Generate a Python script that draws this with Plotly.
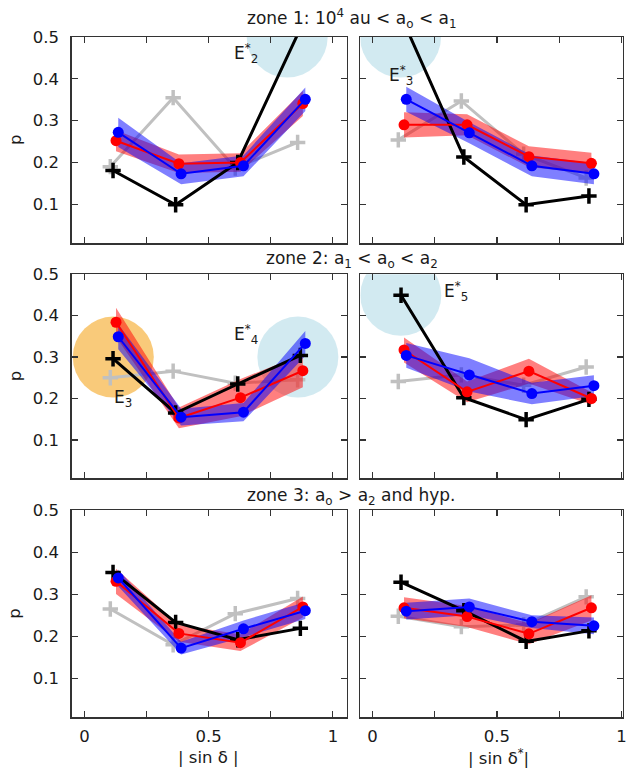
import plotly.graph_objects as go

# ---------------- data ----------------
# x positions (|sin delta| bin centres, slightly shifted per series)
x_gray = [0.104, 0.357, 0.607, 0.858]
x_black = [0.115, 0.367, 0.617, 0.869]
x_red = [0.127, 0.380, 0.628, 0.879]
x_blue = [0.136, 0.389, 0.640, 0.889]

# panel 1: zone 1, |sin d|
p1_gray = [0.190, 0.355, 0.187, 0.248]
p1_black = [0.181, 0.099, 0.200, 0.520]
p1_red = [0.252, 0.197, 0.200, 0.341]
p1_red_err = [0.025, 0.022, 0.022, 0.030]
p1_blue = [0.272, 0.173, 0.192, 0.351]
p1_blue_err = [0.035, 0.025, 0.025, 0.028]
# panel 2: zone 1, |sin d*|
p2_gray = [0.254, 0.347, 0.220, 0.163]
p2_black = [0.550, 0.213, 0.099, 0.120]
p2_red = [0.290, 0.290, 0.214, 0.198]
p2_red_err = [0.030, 0.025, 0.025, 0.025]
p2_blue = [0.351, 0.271, 0.192, 0.173]
p2_blue_err = [0.030, 0.025, 0.025, 0.025]
# panel 3: zone 2, |sin d|
p3_gray = [0.250, 0.266, 0.237, 0.245]
p3_black = [0.296, 0.165, 0.235, 0.304]
p3_red = [0.384, 0.153, 0.202, 0.267]
p3_red_err = [0.035, 0.025, 0.045, 0.040]
p3_blue = [0.349, 0.155, 0.167, 0.333]
p3_blue_err = [0.030, 0.020, 0.022, 0.030]
# panel 4: zone 2, |sin d*|
p4_gray = [0.241, 0.257, 0.232, 0.276]
p4_black = [0.449, 0.202, 0.149, 0.198]
p4_red = [0.317, 0.216, 0.266, 0.200]
p4_red_err = [0.030, 0.025, 0.030, 0.015]
p4_blue = [0.304, 0.257, 0.212, 0.231]
p4_blue_err = [0.030, 0.040, 0.026, 0.025]
# panel 5: zone 3, |sin d|
p5_gray = [0.265, 0.180, 0.254, 0.290]
p5_black = [0.352, 0.233, 0.192, 0.219]
p5_red = [0.331, 0.207, 0.185, 0.270]
p5_red_err = [0.030, 0.020, 0.020, 0.025]
p5_blue = [0.339, 0.172, 0.218, 0.261]
p5_blue_err = [0.020, 0.015, 0.020, 0.020]
# panel 6: zone 3, |sin d*|
p6_gray = [0.248, 0.223, 0.227, 0.294]
p6_black = [0.329, 0.261, 0.188, 0.213]
p6_red = [0.268, 0.247, 0.206, 0.268]
p6_red_err = [0.025, 0.025, 0.025, 0.030]
p6_blue = [0.260, 0.270, 0.235, 0.225]
p6_blue_err = [0.020, 0.020, 0.015, 0.020]

# highlighted cases (panel, x, y, colour) and their labels
hl_panel = [1, 2, 3, 3, 4]
hl_x = [0.816, 0.113, 0.116, 0.859, 0.114]
hl_y = [0.500, 0.500, 0.300, 0.300, 0.449]
hl_color = ["rgba(173,216,230,0.55)", "rgba(173,216,230,0.55)",
            "rgba(246,170,40,0.62)", "rgba(173,216,230,0.55)",
            "rgba(173,216,230,0.55)"]
lab_panel = [1, 2, 3, 3, 4]
lab_x = [0.652, 0.113, 0.156, 0.652, 0.336]
lab_y = [0.460, 0.408, 0.200, 0.355, 0.457]
lab_text = ["E<sup>*</sup><sub>2</sub>", "E<sup>*</sup><sub>3</sub>",
            "E<sub>3</sub>", "E<sup>*</sup><sub>4</sub>",
            "E<sup>*</sup><sub>5</sub>"]

zone_titles = ["zone 1: 10<sup>4</sup> au &lt; a<sub>o</sub> &lt; a<sub>1</sub>",
               "zone 2: a<sub>1</sub> &lt; a<sub>o</sub> &lt; a<sub>2</sub>",
               "zone 3: a<sub>o</sub> &gt; a<sub>2</sub> and hyp."]
x_titles = ["| sin δ |", "| sin δ<sup>*</sup>|"]
x_tickvals = [0, 0.25, 0.5, 0.75, 1]
x_ticktext = ["0", "", "0.5", "", "1"]
y_tickvals = [0.1, 0.2, 0.3, 0.4, 0.5]
y_ticktext = ["0.1", "0.2", "0.3", "0.4", "0.5"]

panels = [
    (p1_gray, p1_black, p1_red, p1_red_err, p1_blue, p1_blue_err),
    (p2_gray, p2_black, p2_red, p2_red_err, p2_blue, p2_blue_err),
    (p3_gray, p3_black, p3_red, p3_red_err, p3_blue, p3_blue_err),
    (p4_gray, p4_black, p4_red, p4_red_err, p4_blue, p4_blue_err),
    (p5_gray, p5_black, p5_red, p5_red_err, p5_blue, p5_blue_err),
    (p6_gray, p6_black, p6_red, p6_red_err, p6_blue, p6_blue_err),
]

# ---------------- layout geometry ----------------
W, H = 637, 773
col_dom = [[72 / W, 349 / W], [362.7 / W, 627 / W]]
row_px = [(28.3, 237.0), (268.3, 475.0), (507.3, 716.7)]
row_dom = [[1 - b / H, 1 - t / H] for t, b in row_px]
x_range = [[-0.052, 1.056], [-0.048, 1.006]]
y_range = [0.007, 0.5]

FONT = "DejaVu Sans"
TXT = "#1a1a1a"
FRAME = "#333333"
FS = 16.5

fig = go.Figure()


def band(xs, vals, errs):
    up = [v + e for v, e in zip(vals, errs)]
    lo = [v - e for v, e in zip(vals, errs)]
    return xs + xs[::-1], up + lo[::-1]


for i, (g, k, r, re, b, be) in enumerate(panels):
    n = i + 1
    xa = "x" if n == 1 else f"x{n}"
    ya = "y" if n == 1 else f"y{n}"
    # highlight circles
    for pn, hx, hy, hc in zip(hl_panel, hl_x, hl_y, hl_color):
        if pn == n:
            fig.add_trace(go.Scatter(x=[hx], y=[hy], mode="markers", xaxis=xa, yaxis=ya,
                                     marker=dict(size=81, color=hc, line=dict(width=0)),
                                     hoverinfo="skip", showlegend=False))
    # gray
    fig.add_trace(go.Scatter(x=x_gray, y=g, mode="lines+markers", xaxis=xa, yaxis=ya,
                             line=dict(color="#c0c0c0", width=3),
                             marker=dict(symbol="cross-thin", size=11, color="#c0c0c0",
                                         line=dict(width=3.5, color="#c0c0c0")),
                             showlegend=False))
    # bands
    bx, by = band(x_red, r, re)
    fig.add_trace(go.Scatter(x=bx, y=by, mode="lines", fill="toself", xaxis=xa, yaxis=ya,
                             fillcolor="rgba(255,0,0,0.5)", line=dict(width=0),
                             hoverinfo="skip", showlegend=False))
    bx, by = band(x_blue, b, be)
    fig.add_trace(go.Scatter(x=bx, y=by, mode="lines", fill="toself", xaxis=xa, yaxis=ya,
                             fillcolor="rgba(0,0,255,0.5)", line=dict(width=0),
                             hoverinfo="skip", showlegend=False))
    # black
    fig.add_trace(go.Scatter(x=x_black, y=k, mode="lines+markers", xaxis=xa, yaxis=ya,
                             line=dict(color="black", width=3),
                             marker=dict(symbol="cross-thin", size=11, color="black",
                                         line=dict(width=3.5, color="black")),
                             showlegend=False))
    # red
    fig.add_trace(go.Scatter(x=x_red, y=r, mode="lines+markers", xaxis=xa, yaxis=ya,
                             line=dict(color="#ff0000", width=2),
                             marker=dict(symbol="circle", size=11, color="#ff0000"),
                             showlegend=False))
    # blue
    fig.add_trace(go.Scatter(x=x_blue, y=b, mode="lines+markers", xaxis=xa, yaxis=ya,
                             line=dict(color="#0000ff", width=2),
                             marker=dict(symbol="circle", size=11, color="#0000ff"),
                             showlegend=False))

layout = dict(width=W, height=H, margin=dict(l=0, r=0, t=0, b=0),
              paper_bgcolor="white", plot_bgcolor="white",
              font=dict(family=FONT, size=FS, color=TXT))

for i in range(6):
    n = i + 1
    row, col = i // 2, i % 2
    xkey = "xaxis" if n == 1 else f"xaxis{n}"
    ykey = "yaxis" if n == 1 else f"yaxis{n}"
    ya = "y" if n == 1 else f"y{n}"
    xa = "x" if n == 1 else f"x{n}"
    layout[xkey] = dict(domain=col_dom[col], range=x_range[col], anchor=ya,
                        tickvals=x_tickvals, ticktext=x_ticktext, showticklabels=(row == 2),
                        ticks="inside", ticklen=6, tickwidth=1.2, tickcolor=FRAME,
                        showline=True, linecolor=FRAME, linewidth=1.3, mirror="allticks",
                        showgrid=False, zeroline=False, ticklabelstandoff=4,
                        tickfont=dict(family=FONT, size=FS, color=TXT))
    layout[ykey] = dict(domain=row_dom[row], range=y_range, anchor=xa,
                        tickvals=y_tickvals, ticktext=y_ticktext, showticklabels=(col == 0),
                        ticks="inside", ticklen=6, tickwidth=1.2, tickcolor=FRAME,
                        showline=True, linecolor=FRAME, linewidth=1.3, mirror="allticks",
                        showgrid=False, zeroline=False, ticklabelstandoff=8,
                        tickfont=dict(family=FONT, size=FS, color=TXT))

annotations = []
title_y = [10, 253, 493]
for t, yy in zip(zone_titles, title_y):
    annotations.append(dict(text=t, x=354 / W, y=1 - yy / H, xref="paper", yref="paper",
                            showarrow=False, xanchor="center", yanchor="middle",
                            font=dict(family=FONT, size=17, color=TXT)))
for row in range(3):
    t, b = row_px[row]
    annotations.append(dict(text="p", x=15 / W, y=1 - (t + b) / 2 / H, xref="paper", yref="paper",
                            showarrow=False, textangle=-90, xanchor="center", yanchor="middle",
                            font=dict(family=FONT, size=FS, color=TXT)))
for t, xc in zip(x_titles, [210, 501.7]):
    annotations.append(dict(text=t, x=xc / W, y=1 - 757 / H, xref="paper", yref="paper",
                            showarrow=False, xanchor="center", yanchor="middle",
                            font=dict(family=FONT, size=FS, color=TXT)))
for pn, lx, ly, lt in zip(lab_panel, lab_x, lab_y, lab_text):
    annotations.append(dict(text=lt, x=lx, y=ly,
                            xref="x" if pn == 1 else f"x{pn}", yref="y" if pn == 1 else f"y{pn}",
                            showarrow=False, xanchor="center", yanchor="middle",
                            font=dict(family=FONT, size=17, color=TXT)))
layout["annotations"] = annotations

fig.update_layout(**layout)
fig.write_html("out.html", config={"displayModeBar": False, "staticPlot": True},
               post_script="document.body.style.margin='0';document.body.style.overflow='hidden';")
